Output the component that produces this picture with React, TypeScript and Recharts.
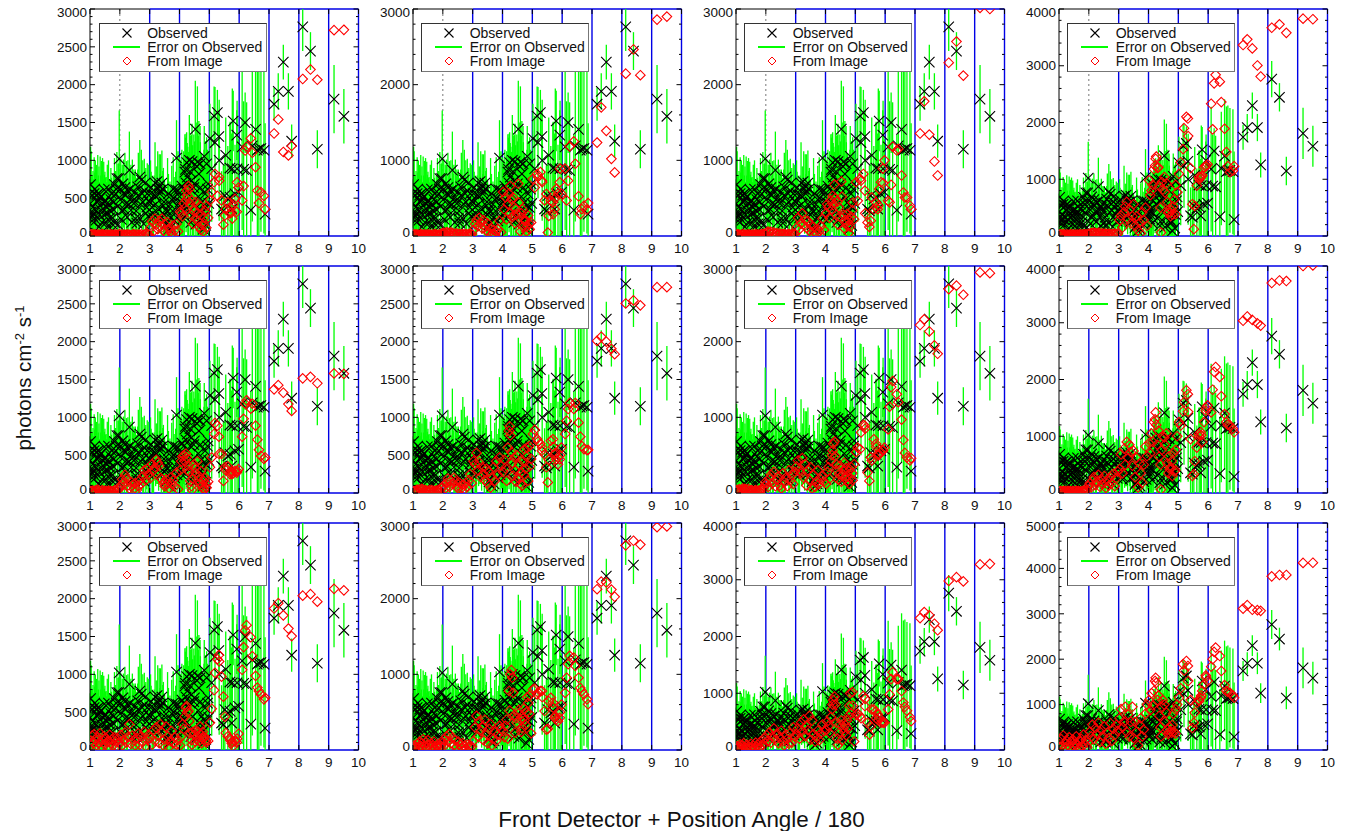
import React from "react";
import { ScatterChart, Scatter, XAxis, YAxis, ErrorBar, ReferenceLine, Legend } from "recharts";

const positions = [
  1.02,1.04,1.07,1.1,1.14,1.18,1.22,1.26,1.3,1.34,1.38,1.42,1.46,1.5,1.54,1.58,1.62,1.66,1.7,1.74,1.78,1.82,1.86,1.9,1.94,1.98,2.03,2.08,2.12,2.17,2.22,2.27,2.32,2.37,2.42,2.47,2.52,2.57,2.62,2.67,2.72,2.77,2.82,2.87,2.92,2.97,
  3.03,3.08,3.13,3.18,3.22,3.27,3.32,3.36,3.41,3.46,3.5,3.55,3.6,3.65,3.7,3.74,3.79,3.84,3.9,3.95,
  4.02,4.06,4.1,4.14,4.18,4.22,4.24,4.26,4.3,4.33,4.36,4.4,4.42,4.45,4.48,4.53,4.55,4.6,4.63,4.66,4.69,4.72,4.74,4.78,4.8,4.83,4.86,4.9,4.91,4.96,
  5.02,5.08,5.16,5.19,5.27,5.32,5.33,5.41,5.47,5.52,5.55,5.62,5.69,5.7,5.75,5.77,5.8,5.86,5.92,5.93,5.98,6.1,6.15,6.2,6.25,6.39,6.44,6.55,6.61,6.66,6.73,6.83,6.87,
  7.17,7.31,7.48,7.65,7.76,8.13,8.39,8.62,9.18,9.51,
];
const observed = [
  680,320,200,260,560,350,540,470,120,500,340,430,280,450,180,380,620,240,480,160,350,680,560,760,150,1020,620,340,560,640,430,600,870,340,510,430,230,170,540,780,740,450,600,300,560,460,
  560,380,240,700,520,620,660,600,700,400,280,150,330,90,240,480,620,200,1031,600,
  450,380,430,620,844,700,970,778,311,1000,620,733,985,280,640,1413,156,978,520,360,955,289,444,250,89,1053,556,378,955,689,
  1289,889,1586,1235,1631,1315,1000,356,333,533,1067,489,898,511,356,889,1520,556,1333,889,578,1178,880,1498,867,342,1191,1409,1133,1150,1156,1133,289,
  1742,1911,2298,1911,1253,2764,2444,1146,1809,1582,
];
const observedError = [
  500,800,600,600,480,650,400,600,800,550,650,600,700,400,600,560,380,500,420,500,450,350,300,350,800,640,400,600,450,460,560,400,510,600,500,450,650,600,560,490,400,550,420,600,400,480,
  440,420,360,540,400,500,420,480,430,500,450,420,700,500,400,450,420,450,500,520,
  430,500,450,500,500,650,400,450,800,600,700,600,500,800,700,640,900,1000,800,600,500,700,650,750,800,400,700,550,350,420,
  460,700,390,735,300,300,800,500,600,550,500,700,600,1000,1000,1060,400,650,330,900,700,1100,900,400,900,1000,1000,1000,1150,1150,1100,1100,1200,
  220,240,230,240,220,320,250,250,450,360,
];
const morePositions = [
  1.01,1.03,1.06,1.09,1.12,1.16,1.2,1.24,1.28,1.32,1.36,1.4,1.44,1.48,1.52,1.56,1.6,1.64,1.68,1.72,1.76,1.8,1.84,1.88,1.92,1.96,2.01,2.05,2.1,2.15,2.2,2.25,2.3,2.35,2.4,2.45,2.5,2.55,2.6,2.65,2.7,2.75,2.8,2.85,2.9,2.95,
  3.0,3.05,3.1,3.15,3.2,3.25,3.3,3.34,3.39,3.44,3.48,3.53,3.58,3.63,3.68,3.72,3.77,3.82,3.87,3.92,3.97,
  4.0,4.04,4.08,4.12,4.16,4.2,4.28,4.35,4.38,4.44,4.5,4.58,4.65,4.7,4.76,4.82,4.88,4.94,4.98,
];
const moreObserved = [
  430,250,540,380,300,620,210,450,560,280,520,180,360,610,470,300,130,420,330,560,240,450,170,620,390,760,480,220,690,350,540,250,420,620,180,470,580,330,650,240,420,560,160,700,380,260,
  450,640,300,540,420,720,350,560,250,620,450,340,180,560,420,120,330,500,610,240,380,
  520,300,660,230,400,880,560,850,180,440,690,920,820,640,230,400,140,620,430,540,
];
const moreError = [
  320,420,260,340,450,220,500,300,240,430,280,480,390,200,300,410,520,330,380,210,420,280,500,180,340,200,300,460,180,380,260,420,340,200,480,320,260,430,230,430,300,240,460,170,330,420,
  300,210,340,260,330,200,320,260,370,240,300,340,420,260,300,460,340,280,240,380,320,
  520,700,480,740,600,420,620,500,800,760,560,580,700,600,760,740,820,520,600,620,
];

const image1 = [
  15,20,12,18,25,14,10,22,16,12,18,24,15,12,20,14,18,10,22,16,12,20,15,18,10,25,14,20,12,18,16,22,14,10,18,25,12,20,16,14,22,12,18,28,15,20,
  110,190,60,230,150,90,200,130,230,70,160,40,180,100,60,30,140,70,160,60,
  320,300,260,430,370,480,600,540,660,620,430,280,470,160,330,230,450,300,190,120,400,80,280,150,60,240,330,110,400,240,
  470,580,710,820,530,780,730,470,150,270,355,445,300,380,310,230,420,490,320,710,640,470,660,1130,1180,1290,1100,910,600,435,580,530,355,
  1355,1540,1110,1065,1190,2075,2200,2065,2720,2725,
];
const image2 = [
  14,20,10,22,18,15,12,24,18,14,20,16,12,22,15,18,12,20,14,24,18,12,16,22,30,35,42,38,50,44,36,48,40,30,26,34,22,28,18,24,20,26,16,22,18,25,
  80,160,210,130,240,170,100,210,130,70,170,40,100,30,80,20,60,90,200,50,
  580,350,510,220,420,560,300,660,480,250,510,280,170,360,290,690,440,60,300,355,120,230,200,200,60,130,270,165,90,180,
  755,640,820,780,845,730,710,470,555,45,265,465,445,290,355,500,620,560,710,890,555,890,470,730,1185,1250,955,525,290,355,400,350,435,
  1235,1700,1390,1020,840,2145,2465,2125,2860,2900,
];
const image3 = [
  16,12,22,18,10,20,15,24,12,18,14,22,16,10,20,18,12,24,15,20,14,18,22,26,28,32,46,60,42,55,36,48,30,38,25,34,20,28,24,18,22,26,16,24,20,28,
  110,240,90,170,300,150,210,110,200,70,150,40,120,50,20,90,60,130,230,80,
  300,420,380,240,470,350,530,410,680,500,280,450,150,380,260,720,520,280,100,210,170,290,130,40,210,120,260,340,440,220,
  710,465,755,730,820,600,300,180,120,200,510,350,445,380,355,400,620,710,890,700,1000,465,445,675,1180,1130,1150,800,575,510,510,400,355,
  1355,1780,1340,985,800,2290,2570,2120,3015,3000,
];
const image4 = [
  20,30,18,25,35,22,16,28,24,18,30,22,26,16,28,20,24,18,32,26,20,28,24,30,22,36,40,55,48,60,52,44,58,50,38,46,34,42,30,40,28,36,32,44,26,38,
  280,360,150,420,520,600,300,470,220,350,560,180,340,100,240,50,420,280,500,180,
  980,720,800,900,1180,1240,1360,1400,1200,1210,880,500,60,950,820,1040,770,930,600,410,415,480,350,445,380,520,640,385,900,770,
  1095,1300,1530,1900,2100,2070,1760,1195,560,120,530,890,1040,1000,1030,1050,1065,1210,1220,1240,1260,2330,1880,2690,2840,2720,2360,1890,1480,1230,1125,1150,1230,
  3365,3465,3305,3005,2810,3670,3730,3580,3830,3820,
];
const image5 = [
  30,22,40,28,18,35,25,45,30,20,26,38,18,30,24,16,32,20,28,18,24,34,20,30,42,55,100,180,130,240,190,100,60,150,100,50,130,40,90,170,120,220,300,170,320,250,
  200,380,300,340,440,400,360,200,180,130,90,180,120,60,200,120,170,90,270,50,
  300,420,480,500,420,520,470,300,360,280,160,90,40,190,380,330,260,420,170,220,130,290,90,60,160,50,200,120,70,150,
  340,470,780,925,890,745,515,515,160,340,300,350,250,280,250,290,260,290,270,290,315,745,980,1180,1225,1115,1180,890,705,570,490,450,470,
  1370,1425,1325,1175,1085,1515,1535,1450,1580,1575,
];
const image6 = [
  30,24,36,20,44,28,50,34,55,40,26,38,30,22,36,28,40,24,30,20,34,26,38,30,60,80,100,60,130,190,80,160,120,200,150,80,60,130,60,110,50,130,80,170,250,130,
  420,380,530,300,400,210,340,250,170,320,130,280,70,210,340,160,420,240,470,360,
  280,440,330,160,600,820,880,760,540,400,230,470,300,150,500,200,380,120,270,100,420,240,580,320,480,600,160,620,350,450,
  780,835,715,680,650,560,600,510,340,140,440,690,710,610,510,530,445,380,445,500,600,780,955,1110,1190,1110,1190,930,745,620,580,565,570,
  2010,2065,2000,1905,1835,2505,2545,2480,2720,2720,
];
const image7 = [
  40,20,35,50,28,44,60,38,55,48,30,52,26,40,34,22,30,38,24,32,28,36,40,60,90,140,120,80,190,240,130,280,90,170,220,100,60,260,140,200,90,300,170,240,120,280,
  350,430,300,260,460,200,380,100,300,170,340,60,240,80,150,300,120,180,230,150,
  120,280,340,190,420,500,560,650,680,490,380,300,180,250,360,150,230,290,400,190,330,230,160,290,120,200,340,260,170,380,
  540,600,580,800,900,890,850,270,160,470,430,710,650,610,515,500,510,535,560,565,600,840,1140,1400,1480,1305,1200,970,700,530,470,430,460,
  2220,2295,2135,1950,1840,2695,2740,2620,2915,2905,
];
const image8 = [
  24,36,20,30,40,26,34,22,38,28,32,20,36,26,30,40,24,34,22,28,36,26,32,40,60,120,170,100,220,280,140,200,320,110,240,160,300,90,220,130,280,170,340,120,260,380,
  420,680,350,780,500,900,620,850,720,480,740,280,620,100,520,350,180,500,820,650,
  880,700,1050,900,1250,1300,1420,1200,850,1100,640,500,60,760,1000,980,850,1050,520,350,650,420,450,560,300,700,380,400,760,1000,
  1250,1190,1440,1600,1810,1740,1430,950,300,330,560,800,1040,1000,1070,1020,900,1250,1450,1500,1545,1420,1820,2135,2220,2045,1705,1390,1250,1200,1190,1130,1070,
  3035,3110,3050,2990,2950,3700,3745,3735,4000,4010,
];
const image9 = [
  120,60,190,90,210,140,60,170,100,220,50,130,180,70,160,110,40,200,90,140,60,170,110,50,150,90,200,60,130,230,100,170,340,80,190,130,60,160,220,70,180,110,240,50,140,200,
  160,70,260,120,300,190,90,340,230,60,140,310,180,40,120,250,90,170,70,130,
  60,180,340,280,440,560,580,500,515,380,220,130,70,240,200,110,260,180,240,120,310,200,90,240,150,180,120,100,140,120,
  360,545,790,1020,1200,1255,1170,970,705,440,225,180,160,130,90,110,50,115,100,150,215,1060,1360,1580,1650,1490,1240,980,825,780,735,670,690,
  1870,1940,1780,1605,1505,2040,2060,1960,2130,2110,
];
const image10 = [
  30,60,20,45,80,35,110,50,90,140,60,100,40,130,70,30,85,50,110,25,60,40,75,30,55,90,140,70,180,120,210,90,160,60,130,40,110,70,30,90,50,20,70,35,60,45,
  120,300,450,180,380,250,310,130,400,220,90,280,340,60,150,240,120,200,320,280,
  250,170,320,400,150,780,520,1000,1055,955,755,460,230,420,360,480,530,400,240,290,420,550,390,330,500,700,620,480,720,220,
  800,810,735,760,780,780,700,515,270,280,645,690,625,560,425,450,405,380,425,500,600,755,955,1135,1245,1220,1110,955,820,780,735,670,605,
  2125,2225,2215,2120,2025,2705,2765,2715,2945,2955,
];
const image11 = [
  30,70,20,55,100,40,80,120,50,30,90,60,25,110,45,75,35,130,60,90,40,150,70,100,200,120,260,160,310,130,240,380,180,290,120,220,340,150,80,270,190,110,300,130,400,230,
  280,380,200,480,330,540,250,430,350,600,180,520,280,150,230,340,170,290,450,330,
  350,500,420,300,580,720,800,880,940,800,480,200,90,300,450,520,170,380,320,440,260,520,380,600,780,1000,650,1020,780,150,
  620,640,600,560,950,775,900,480,270,420,715,715,680,560,630,520,570,480,500,480,480,715,980,1250,1370,1250,1250,1040,835,760,690,580,510,
  2325,2430,2375,2225,2110,2980,3045,2970,3270,3280,
];
const image12 = [
  120,60,240,90,320,160,60,200,100,280,50,170,230,80,140,300,110,40,190,250,90,340,130,220,60,160,400,300,560,240,480,350,600,180,440,310,520,140,380,260,590,200,470,330,550,420,
  700,900,500,620,950,400,780,300,620,950,260,620,400,100,550,700,300,450,800,1000,
  1100,880,1250,980,1300,1520,1590,1480,1100,1200,750,500,300,950,1100,1000,620,820,450,350,380,500,420,380,550,800,400,360,900,1000,
  1150,1360,1890,1750,1960,1850,1520,1100,485,600,820,1040,1110,1080,1150,1200,1300,1445,1640,1600,1520,1835,2000,2160,2255,2070,1740,1430,1300,1280,1260,1200,1150,
  3115,3190,3090,3080,3065,3825,3855,3855,4120,4125,
];

const fromImage = [image1,image2,image3,image4,image5,image6,image7,image8,image9,image10,image11,image12];
const yMaxima = [3000,3000,3000,4000,3000,3000,3000,4000,3000,3000,4000,5000];
const ySteps = [500,1000,1000,1000,500,500,1000,1000,500,1000,1000,1000];
const xLabels = [1,2,3,4,5,6,7,8,9,10];
const legendLabels = ["Observed","Error on Observed","From Image"];

const PLOT_LEFT = [90,412.5,735.5,1058.5];
const PLOT_TOP = [9,266.3,523.3];
const PLOT_W = 268.5;
const PLOT_H = 227;
const M = { left: 44, right: 15, top: 8, bottom: 23 };
const FONT = "'Liberation Sans', Arial, sans-serif";
const BLUE = "#0000e6";

const XMark = (p: any) => (
  <path d={`M${p.cx-5.2} ${p.cy-5.2}L${p.cx+5.2} ${p.cy+5.2}M${p.cx+5.2} ${p.cy-5.2}L${p.cx-5.2} ${p.cy+5.2}`} stroke="#000" strokeWidth={1.1} fill="none" />
);
const Diamond = (p: any) => (
  <path d={`M${p.cx} ${p.cy-4.8}L${p.cx+4.8} ${p.cy}L${p.cx} ${p.cy+4.8}L${p.cx-4.8} ${p.cy}Z`} stroke="#ff0000" strokeWidth={1.1} fill="none" />
);
const NoMark = () => <g />;

const LegendBox = () => (
  <div style={{ width: 168, height: 49, boxSizing: "border-box", background: "#fff", border: "1px solid #333", borderBottomColor: "#777", borderRightColor: "#777", position: "relative", fontFamily: FONT, fontSize: 14, color: "#111", lineHeight: "14px" }}>
    <svg width={60} height={47} style={{ position: "absolute", left: 0, top: 0 }}>
      <path d="M22.5 4.5L31.5 13.5M31.5 4.5L22.5 13.5" stroke="#000" strokeWidth={1.1} fill="none" />
      <line x1={13} x2={40} y1={23} y2={23} stroke="#00ff00" strokeWidth={2} />
      <path d="M27 33L31 37L27 41L23 37Z" stroke="#ff0000" strokeWidth={1} fill="none" />
    </svg>
    {legendLabels.map((t, i) => (
      <div key={t} style={{ position: "absolute", left: 47.5, top: 1.5 + i * 14, whiteSpace: "nowrap" }}>{t}</div>
    ))}
  </div>
);

function Panel({ index }: { index: number }) {
  const col = index % 4;
  const row = Math.floor(index / 4);
  const yMax = yMaxima[index];
  const step = ySteps[index];
  const blueStart = row === 0 ? 3 : row === 1 ? 2 : 1;
  const minor = step / 5;
  const yTicks: number[] = [];
  for (let v = 0; v <= yMax; v += minor) yTicks.push(v);
  const withRange = (x: number, y: number, e: number) => ({ x, y, range: [Math.min(e, y), Math.max(0, Math.min(e, yMax - y))] });
  const obsData = [
    ...morePositions.map((x, i) => withRange(x, moreObserved[i], moreError[i])),
    ...positions.map((x, i) => withRange(x, observed[i], observedError[i])),
  ].sort((a, b) => a.x - b.x);
  const imgData = positions.map((x, i) => ({ x, y: fromImage[index][i] }));

  const xTick = (p: any) => {
    const v = p.payload.value;
    return (
      <g>
        <line x1={p.x} x2={p.x} y1={p.y} y2={p.y - 5} stroke="#000" />
        <line x1={p.x} x2={p.x} y1={p.y - PLOT_H} y2={p.y - PLOT_H + 5} stroke="#000" />
        <text x={p.x} y={p.y + 12} dy="0.35em" textAnchor="middle" fontFamily={FONT} fontSize={13.5} fill="#111">{v}</text>
      </g>
    );
  };
  const yTick = (p: any) => {
    const v = p.payload.value;
    const major = Math.round(v) % step === 0;
    const len = major ? 5 : 2.5;
    const shift = v === 0 ? -4.2 : v === yMax ? 3 : 0;
    return (
      <g>
        <line x1={p.x} x2={p.x + len} y1={p.y} y2={p.y} stroke="#000" />
        <line x1={p.x + PLOT_W} x2={p.x + PLOT_W - len} y1={p.y} y2={p.y} stroke="#000" />
        {major ? <text x={p.x - 3} y={p.y + shift} dy="0.35em" textAnchor="end" fontFamily={FONT} fontSize={13.5} fill="#111">{v}</text> : null}
      </g>
    );
  };

  return (
    <div style={{ position: "absolute", left: PLOT_LEFT[col] - M.left - 1, top: PLOT_TOP[row] - M.top }}>
      <ScatterChart width={PLOT_W + M.left + 1 + M.right} height={PLOT_H + M.top + M.bottom + 1} margin={M}>
        <XAxis type="number" dataKey="x" domain={[1, 10]} ticks={xLabels} interval={0} height={1} allowDataOverflow axisLine={false} tickLine={false} tickSize={0} tickMargin={0} tick={xTick} />
        <YAxis type="number" dataKey="y" domain={[0, yMax]} ticks={yTicks} interval={0} width={1} allowDataOverflow axisLine={{ stroke: "#000" }} tickLine={false} tickSize={0} tickMargin={0} tick={yTick} />
        {xLabels.slice(1, 9).map((v) =>
          v === 2 && row === 0
            ? <ReferenceLine key={v} x={v} stroke="#777" strokeDasharray="2 3" />
            : <ReferenceLine key={v} x={v} stroke={BLUE} strokeWidth={1.4} />
        )}
        <ReferenceLine x={10} stroke={BLUE} strokeWidth={1.4} />
        <ReferenceLine segment={[{ x: blueStart, y: yMax }, { x: 10, y: yMax }]} stroke={BLUE} strokeWidth={1.4} />
        <ReferenceLine segment={[{ x: blueStart, y: 0 }, { x: 10, y: 0 }]} stroke={BLUE} strokeWidth={1.4} />
        {blueStart > 1 ? <ReferenceLine segment={[{ x: 1, y: yMax }, { x: blueStart, y: yMax }]} stroke="#000" /> : null}
        {blueStart > 1 ? <ReferenceLine segment={[{ x: 1, y: 0 }, { x: blueStart, y: 0 }]} stroke="#000" /> : null}
        <Scatter name="Error on Observed" data={obsData} shape={NoMark} isAnimationActive={false}>
          <ErrorBar dataKey="range" direction="y" width={0} stroke="#00ff00" strokeWidth={1.3} isAnimationActive={false} />
        </Scatter>
        <Scatter name="Observed" data={obsData} shape={XMark} isAnimationActive={false} />
        <Scatter name="From Image" data={imgData} shape={Diamond} isAnimationActive={false} />
        <Legend layout="vertical" align="center" verticalAlign="middle" content={LegendBox} wrapperStyle={{ left: M.left + 1 + 8.7, top: M.top + 14.2, width: 168, height: 49 }} />
      </ScatterChart>
    </div>
  );
}

export default function App() {
  return (
    <div style={{ position: "absolute", left: 0, top: 0, width: 1351, height: 831, background: "#fff" }}>
      {fromImage.map((_, i) => <Panel key={i} index={i} />)}
      <svg width={1351} height={831} style={{ position: "absolute", left: 0, top: 0, pointerEvents: "none" }}>
        <text x={681.5} y={826.5} textAnchor="middle" fontFamily={FONT} fontSize={22.4} fill="#111">Front Detector + Position Angle / 180</text>
        <text transform="translate(31,378) rotate(-90)" textAnchor="middle" fontFamily={FONT} fontSize={20.5} fill="#111">
          photons cm<tspan dy={-7} fontSize={13}>-2</tspan><tspan dy={7}> s</tspan><tspan dy={-7} fontSize={13}>-1</tspan>
        </text>
      </svg>
    </div>
  );
}
